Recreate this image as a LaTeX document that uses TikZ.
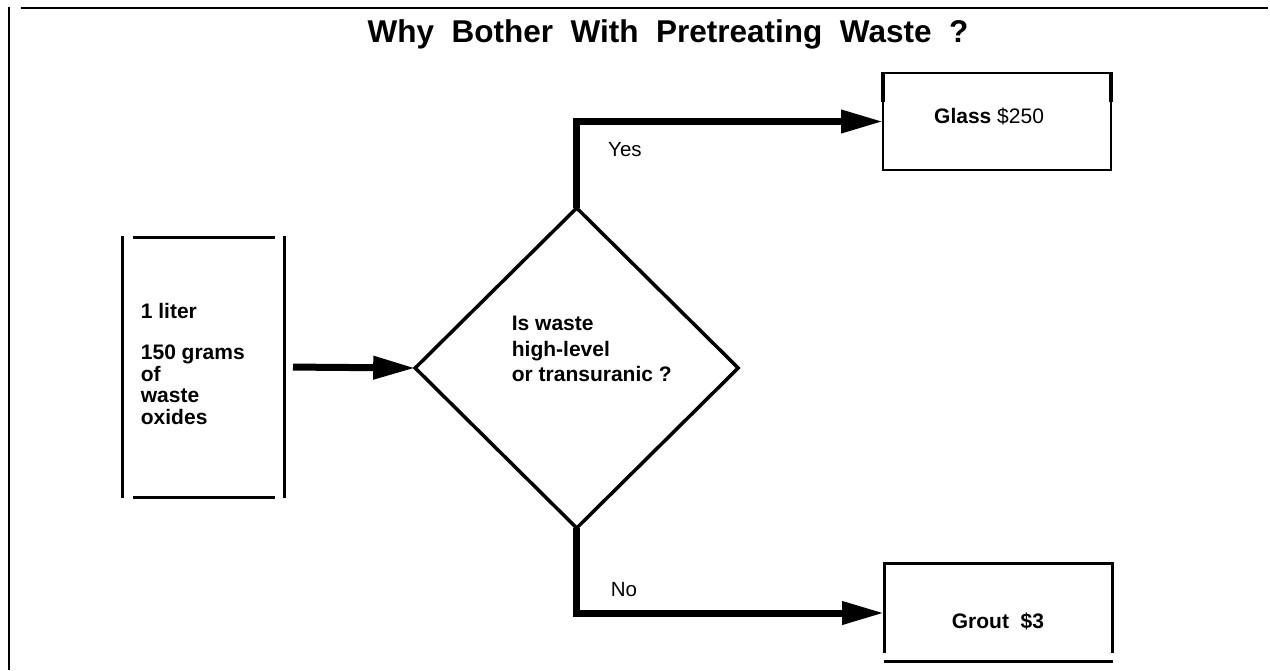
\documentclass[tikz,border=0pt]{standalone}
\usepackage{fontspec}
\setmainfont{Liberation Sans}
\usetikzlibrary{shapes.geometric,arrows.meta}
\tikzset{
  frameline/.style={line width=2pt, black},
  boxline/.style={line width=3pt, black},
  thinbox/.style={line width=2.5pt, black},
  arr/.style={line width=7pt, line join=miter, -{Triangle[length=42pt,width=22pt]}},
  holder/.style={draw=none, inner sep=0pt, outer sep=0pt},
  boxtext/.style={inner sep=0pt, align=left, font=\fontsize{21}{21.5}\selectfont\bfseries},
  lbl/.style={inner sep=0pt, font=\fontsize{20.5}{24}\selectfont},
}
\begin{document}
\begin{tikzpicture}[x=1pt,y=-1pt]
\useasboundingbox (0,0) rectangle (1270,670);
% page frame
\draw[frameline] (20.7,8.3) -- (1268,8.3);
\draw[frameline] (9,6.7) -- (9,670);
% title
\node[inner sep=0pt, anchor=base, font=\fontsize{31.5}{36}\selectfont\bfseries] (title) at (668,42) {Why\ \ Bother\ \ With\ \ Pretreating\ \ Waste\ \ ?};
% input box
\node[holder, minimum width=162pt, minimum height=261pt] (inbox) at (203,367) {};
\draw[boxline] (122,236) -- (122,498);
\draw[boxline] (284,236) -- (284,498);
\draw[boxline] (133,237) -- (275,237);
\draw[boxline] (133,497) -- (275,497);
\node[boxtext, anchor=base west] (intext) at (140.7,424) {1 liter\\[20pt]150 grams\\of\\waste\\oxides};
% decision diamond
\node[diamond, draw, line width=3.5pt, minimum width=323pt, minimum height=320pt, inner sep=0pt, outer sep=0pt] (dia) at (576.7,368) {};
\node[boxtext, anchor=base west, font=\fontsize{21}{25.5}\selectfont\bfseries] (diatext) at (511.7,381.5) {Is waste\\high-level\\or transuranic ?};
% glass box
\node[holder, minimum width=228pt, minimum height=97pt] (glass) at (997,121.5) {};
\draw[thinbox] (883,73) rectangle (1111,170);
\draw[line width=4.5pt] (883,72) -- (883,102);
\draw[line width=4.5pt] (1111,72) -- (1111,102);
\node[inner sep=0pt, anchor=base west, font=\fontsize{21}{24}\selectfont] (glasstext) at (934,123.3) {\textbf{Glass} \$250};
% grout box
\node[holder, minimum width=228pt, minimum height=100pt] (grout) at (998,613) {};
\draw[boxline] (884,653) -- (884,563.3) -- (1112,563.3) -- (1112,653);
\draw[boxline] (884,661.7) -- (1113,661.7);
\node[inner sep=0pt, anchor=base west, font=\fontsize{21}{24}\selectfont\bfseries] (grouttext) at (951.7,628.3) {Grout\ \ \$3};
% connectors
\draw[arr, shorten <=9pt] (inbox.east) -- (dia.west);
\draw[arr] (dia.north) |- (glass.west);
\draw[arr] (dia.south) |- (grout.west);
% labels
\node[lbl, anchor=base west] (yes) at (608,156.7) {Yes};
\node[lbl, anchor=base west] (no) at (610.7,596.7) {No};
\end{tikzpicture}
\end{document}
